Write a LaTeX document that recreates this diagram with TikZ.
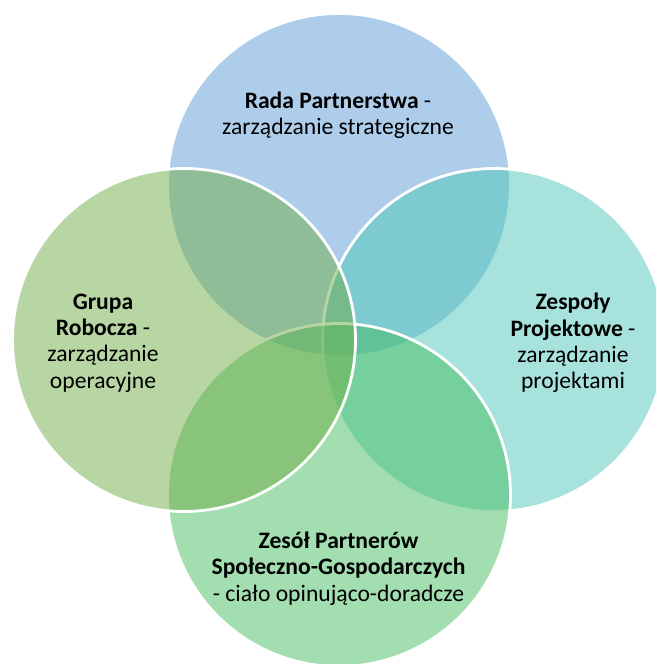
\documentclass[tikz,border=0pt]{standalone}
\usepackage{fontspec}
\setmainfont{Carlito}
\definecolor{radablue}{RGB}{91,155,213}
\definecolor{zespolteal}{RGB}{79,199,185}
\definecolor{zesolgreen}{RGB}{69,189,97}
\definecolor{grupagreen}{RGB}{112,173,71}

\begin{document}
\begin{tikzpicture}[x=1pt, y=-1pt,
    venn/.style={circle, draw=white, line width=2.8pt, fill opacity=0.5,
                 minimum size=343pt, inner sep=0pt},
    venntext/.style={align=center, inner sep=0pt, text=black,
                 font=\fontsize{23.6}{26.4}\selectfont}]

  \useasboundingbox (0,0) rectangle (656,664);
  \clip (0,0) rectangle (656,664);

  % circles, in drawing order: top, right, bottom, left
  \node[venn, fill=radablue]   (rada)   at (339,185) {};
  \node[venn, fill=zespolteal] (zespoly) at (494,340) {};
  \node[venn, fill=zesolgreen] (zesol)  at (339,495) {};
  \node[venn, fill=grupagreen] (grupa)  at (184,340) {};

  % labels
  \node[venntext] (radatxt) at (338,115.5)
    {\textbf{Rada Partnerstwa} -\\zarządzanie strategiczne};
  \node[venntext] (grupatxt) at (103,343)
    {\textbf{Grupa}\\\textbf{Robocza} -\\zarządzanie\\operacyjne};
  \node[venntext] (zespolytxt) at (573,343)
    {\textbf{Zespoły}\\\textbf{Projektowe} -\\zarządzanie\\projektami};
  \node[venntext] (zesoltxt) at (338.5,568.5)
    {\textbf{Zesół Partnerów}\\\textbf{Społeczno-Gospodarczych}\\- ciało opinująco-doradcze};
\end{tikzpicture}
\end{document}
